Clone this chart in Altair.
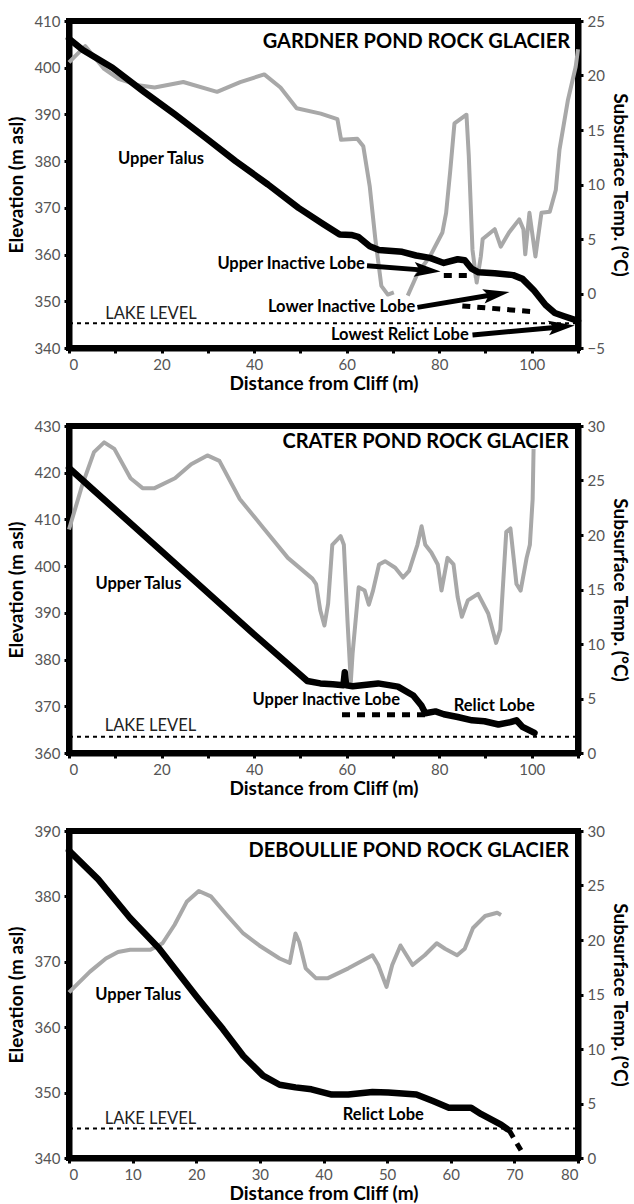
import math
import altair as alt
import pandas as pd

W = 509
H = 327
FONT = "Lato"
GRAY = "#a8a8a8"

# ---------------- Gardner Pond Rock Glacier ----------------
g_elev_d = [0, 3, 9.4, 16, 22.9, 29.5, 36, 43, 49.6, 55, 58.5, 61, 62.5, 65, 67, 72, 75, 78, 81,
            84, 85.5, 87, 88.5, 92, 96, 98, 100.5, 103, 105, 107, 110]
g_elev_e = [406.2, 403.8, 400, 395, 390, 385, 380, 375, 370, 366.5, 364.3, 364.2, 363.8, 361.8, 361,
            360.6, 359.8, 359.3, 358.2, 359, 358.8, 357, 356.2, 356, 355.6, 354.8, 352.3, 349.2, 347.5,
            346.8, 345.8]
g_temp_seg = [1] * 23 + [2] * 30
g_temp_d = [0, 3.5, 7.6, 10.7, 15, 18.5, 24.7, 32, 37, 42.2, 45.7, 49.2, 54.4, 58, 58.8, 62.3, 63.6,
            65, 66.2, 67.5, 68.9, 70.2, 70.2,
            73.2, 75.4, 78, 80.7, 81.5, 82.4, 83.3, 85.9, 86.4, 87.2, 88.1, 89, 89.4, 92, 93.3, 95.1,
            97.3, 98.2, 98.6, 99.5, 100.8, 102.1, 103.9, 105.2, 106, 107.8, 109.5, 110, 110, 110]
g_temp_t = [21.2, 22.7, 20.6, 19.7, 19.1, 18.9, 19.4, 18.5, 19.4, 20.1, 18.9, 17, 16.5, 16, 14.1, 14.2,
            13.5, 9.8, 5, 0.7, -0.1, 0.1, 0.1,
            -0.2, 1.9, 3.4, 5.6, 7.4, 11.3, 15.6, 16.4, 12.6, 4, 1, 3.4, 5, 5.9, 4.3, 5.6, 6.8, 5.9,
            3.6, 7.4, 3.4, 7.4, 7.5, 9.5, 13.2, 17.7, 20.8, 22.4, 22.4, 22.4]
g_lobe_id = ["upper", "upper", "lower", "lower"]
g_lobe_d = [81, 87.5, 85, 100]
g_lobe_e = [355.5, 355.5, 349, 347.8]
g_lake = 345.3
g_labels = ["Upper Talus", "Upper Inactive Lobe", "Lower Inactive Lobe", "Lowest Relict Lobe"]
g_label_d = [19.9, 48, 58.9, 71.5]
g_label_e = [380.4, 357.9, 348.7, 342.8]
g_arrow_d1 = [64.4, 75.3, 87.2]
g_arrow_e1 = [357.6, 348.7, 342.8]
g_arrow_d2 = [80.3, 95.2, 109.3]
g_arrow_e2 = [356.4, 352.0, 344.8]

# ---------------- Crater Pond Rock Glacier ----------------
c_elev_d = [0, 5.4, 20, 40, 51.5, 54.3, 57, 59.3, 59.6, 59.9, 61.3, 66.8, 71.1, 74.4, 76.2, 77, 79.2,
            81, 84, 87.1, 89.8, 92.8, 95.4, 96.7, 98, 100.6]
c_elev_e = [421, 416.2, 403.2, 385.4, 375.4, 374.9, 374.7, 374.5, 377.3, 374.5, 374.3, 374.9, 374.2,
            372.3, 370.1, 368.5, 368.9, 368.3, 367.7, 367, 366.8, 366.1, 366.6, 367, 365.6, 364.3]
c_temp_d = [0, 2.8, 5.4, 7.6, 9.8, 13.3, 15.9, 18.5, 22.9, 26.4, 29.9, 32.5, 36.9, 42.1, 47.3, 52.6,
            53.4, 54.3, 55.2, 56, 56.9, 58.7, 59.4, 60.2, 60.9, 61.3, 62.6, 63.9, 64.8, 65.7, 67, 68.3,
            70.5, 72.2, 73.5, 75.3, 76.2, 77, 78.3, 79.7, 80.5, 81.8, 83.1, 84, 84.9, 86.2, 88.4, 90.6,
            92.3, 93.2, 94.5, 95.4, 96.7, 97.6, 98.9, 99.6, 100.2, 100.4]
c_temp_t = [20.5, 24.5, 27.6, 28.5, 27.9, 25.2, 24.3, 24.3, 25.2, 26.5, 27.3, 26.8, 23.3, 20.6, 17.9,
            16, 15.5, 13.1, 11.7, 13.7, 19.1, 19.9, 19.1, 12, 6.5, 9.2, 15.2, 14.9, 13.6, 14.9, 17.3,
            17.6, 17, 16.1, 16.7, 19.1, 20.8, 19.1, 18.4, 17.3, 14.9, 17.9, 17.3, 14.3, 12.5, 14, 14.6,
            12.8, 10.1, 11.3, 20.3, 20.6, 15.5, 14.9, 17.9, 19.1, 23.3, 27.9]
c_temp_seg = [1] * len(c_temp_d)
c_lobe_id = ["upper", "upper"]
c_lobe_d = [59, 77.5]
c_lobe_e = [368.2, 368.2]
c_lake = 363.5
c_labels = ["Upper Talus", "Upper Inactive Lobe", "Relict Lobe"]
c_label_d = [15, 55.6, 91.9]
c_label_e = [396.2, 371.4, 370.1]

# ---------------- Deboullie Pond Rock Glacier ----------------
d_elev_d = [0, 4.6, 9.6, 14.1, 20.1, 24.2, 27.4, 30.5, 33.1, 35.6, 38.1, 41.3, 43.9, 47.7, 50.2, 54.6,
            57.2, 59.7, 61.6, 63.2, 64.8, 67.9, 68.9]
d_elev_e = [387, 382.6, 376.7, 372.1, 364.6, 359.7, 355.6, 352.6, 351.2, 350.8, 350.5, 349.7, 349.7,
            350.1, 350, 349.7, 348.7, 347.7, 347.7, 347.7, 346.7, 345.1, 344.4]
d_temp_d = [0, 3.3, 5.8, 7.7, 9.6, 12.8, 14.7, 16.6, 18.5, 20.4, 22.3, 24.8, 27.4, 29.9, 33.1, 34.7,
            35.6, 36.2, 37.2, 38.8, 40.7, 43.9, 47.7, 48.6, 49.9, 50.8, 52.1, 54, 55.9, 57.8, 59.1, 61,
            62.2, 63.5, 65.4, 67.3, 67.9]
d_temp_t = [15.2, 17.1, 18.3, 18.9, 19.1, 19.1, 19.7, 21.4, 23.5, 24.5, 24, 22.3, 20.6, 19.5, 18.3,
            17.9, 20.6, 19.8, 17.4, 16.5, 16.5, 17.4, 18.6, 17.7, 15.7, 17.7, 19.5, 17.7, 18.6, 19.7,
            19.2, 18.6, 19.2, 21.1, 22.2, 22.5, 22.3]
d_temp_seg = [1] * len(d_temp_d)
d_lobe_id = ["tail", "tail"]
d_lobe_d = [69.2, 71.2]
d_lobe_e = [344.2, 340.9]
d_lake = 344.5
d_labels = ["Upper Talus", "Relict Lobe"]
d_label_d = [10.9, 49.4]
d_label_e = [365, 346.5]


def panel(title, title_d, title_e, xmax, xlabel_step, ymin, ymax, tmin, tmax, tstep,
          elev_d, elev_e, temp_d, temp_t, temp_seg, lobe_id, lobe_d, lobe_e, lake,
          labels, label_d, label_e, arrows=None, lake_label_d=17.5, lake_label_e=None):
    xs = alt.Scale(domain=[0, xmax], nice=False, zero=False)
    ys = alt.Scale(domain=[ymin, ymax], nice=False, zero=False)
    ts = alt.Scale(domain=[tmin, tmax], nice=False, zero=False)

    elev = pd.DataFrame({"d": elev_d, "e": elev_e, "i": range(len(elev_d))})
    temp = pd.DataFrame({"d": temp_d, "t": temp_t, "seg": temp_seg, "i": range(len(temp_d))})
    lobes = pd.DataFrame({"d": lobe_d, "e": lobe_e, "id": lobe_id})
    lake_df = pd.DataFrame({"d": [0], "d2": [xmax], "e": [lake]})
    lab = pd.DataFrame({"txt": labels, "d": label_d, "e": label_e})
    lake_lab = pd.DataFrame({"txt": ["LAKE LEVEL"], "d": [lake_label_d],
                             "e": [lake_label_e if lake_label_e is not None else lake + 2.2]})
    ttl = pd.DataFrame({"txt": [title], "d": [title_d], "e": [title_e]})

    xvals = list(range(0, xmax + 1, 10))
    xaxis = alt.Axis(values=xvals, title="Distance from Cliff (m)", titlePadding=2,
                     labelExpr=f"datum.value % {xlabel_step} == 0 ? datum.label : ''")
    yaxis = alt.Axis(values=list(range(ymin, ymax + 1, 10)), title="Elevation (m asl)", orient="left",
                     titlePadding=7)
    taxis = alt.Axis(values=list(range(tmin, tmax + 1, tstep)), title="Subsurface Temp. (°C)",
                     orient="right", titlePadding=5)

    def X(f):
        return alt.X(f, scale=xs, axis=xaxis)

    def Y(f):
        return alt.Y(f, scale=ys, axis=yaxis)

    elev_line = alt.Chart(elev).mark_line(color="black", strokeWidth=6.5, strokeJoin="round",
                                          strokeCap="round").encode(
        x=X("d:Q"), y=Y("e:Q"), order="i:Q")
    lobe_line = alt.Chart(lobes).mark_line(color="black", strokeWidth=5, strokeDash=[8, 7]).encode(
        x=X("d:Q"), y=Y("e:Q"), detail="id:N")
    lake_line = alt.Chart(lake_df).mark_rule(color="black", strokeWidth=2, strokeDash=[4, 4]).encode(
        x=X("d:Q"), x2="d2:Q", y=Y("e:Q"))
    lab_text = alt.Chart(lab).mark_text(font=FONT, fontSize=16.5, fontWeight="bold", color="black",
                                        align="center", baseline="middle").encode(
        x=X("d:Q"), y=Y("e:Q"), text="txt:N")
    lake_text = alt.Chart(lake_lab).mark_text(font=FONT, fontSize=16.5, color="#222", align="center",
                                              baseline="middle").encode(
        x=X("d:Q"), y=Y("e:Q"), text="txt:N")
    title_text = alt.Chart(ttl).mark_text(font=FONT, fontSize=20, fontWeight="bold", color="black",
                                          align="right", baseline="middle").encode(
        x=X("d:Q"), y=Y("e:Q"), text="txt:N")

    left_layers = [lake_line, lobe_line, elev_line, lab_text, lake_text, title_text]

    if arrows is not None:
        d1, e1, d2, e2 = arrows
        px = W / xmax
        py = H / (ymax - ymin)
        angs, sd, se = [], [], []
        for a, b, c, d in zip(d1, e1, d2, e2):
            dx = (c - a) * px
            dy = -(d - b) * py
            ang = math.degrees(math.atan2(dy, dx)) % 360
            angs.append(ang)
            L = math.hypot(dx, dy)
            f = max(0.0, (L - 20) / L)
            sd.append(a + (c - a) * f)
            se.append(b + (d - b) * f)
        arr = pd.DataFrame({"d1": d1, "e1": e1, "d2": d2, "e2": e2, "ang": angs, "sd": sd, "se": se})
        shaft = alt.Chart(arr).mark_rule(color="black", strokeWidth=5).encode(
            x=X("d1:Q"), x2="sd:Q", y=Y("e1:Q"), y2="se:Q")
        head = alt.Chart(arr).mark_point(
            shape="M0,0 L-2,-0.55 L-1.6,0 L-2,0.55 Z", filled=True, color="black", opacity=1,
            size=700).encode(
            x=X("d2:Q"), y=Y("e2:Q"), angle=alt.Angle("ang:Q", scale=None))
        left_layers += [shaft, head]

    left = alt.layer(*left_layers)

    temp_line = alt.Chart(temp).mark_line(color=GRAY, strokeWidth=4, strokeJoin="round").encode(
        x=X("d:Q"),
        y=alt.Y("t:Q", scale=ts, axis=taxis),
        detail="seg:N",
        order="i:Q",
    )
    return alt.layer(temp_line, left).resolve_scale(y="independent").properties(width=W, height=H)


p1 = panel("GARDNER POND ROCK GLACIER", 108.3, 405.6, 110, 20, 340, 410, -5, 25, 5,
           g_elev_d, g_elev_e, g_temp_d, g_temp_t, g_temp_seg, g_lobe_id, g_lobe_d, g_lobe_e, g_lake,
           g_labels, g_label_d, g_label_e,
           arrows=(g_arrow_d1, g_arrow_e1, g_arrow_d2, g_arrow_e2), lake_label_d=17.7, lake_label_e=347.3)
p2 = panel("CRATER POND ROCK GLACIER", 108, 426.5, 110, 20, 360, 430, 0, 30, 5,
           c_elev_d, c_elev_e, c_temp_d, c_temp_t, c_temp_seg, c_lobe_id, c_lobe_d, c_lobe_e, c_lake,
           c_labels, c_label_d, c_label_e, lake_label_d=17.6, lake_label_e=365.7)
p3 = panel("DEBOULLIE POND ROCK GLACIER", 78.6, 386.9, 80, 10, 340, 390, 0, 30, 5,
           d_elev_d, d_elev_e, d_temp_d, d_temp_t, d_temp_seg, d_lobe_id, d_lobe_d, d_lobe_e, d_lake,
           d_labels, d_label_d, d_label_e, lake_label_d=12.8, lake_label_e=345.9)

chart = alt.vconcat(p1, p2, p3, spacing=20).properties(
    padding={"left": 4, "top": 11, "right": 0, "bottom": 0}
).configure_view(
    stroke="black", strokeWidth=6
).configure_axis(
    grid=False, domainColor="black", domainWidth=6, tickColor="black", tickWidth=3, tickSize=5,
    labelColor="#555", labelFont=FONT, labelFontSize=15, labelPadding=4,
    titleFont=FONT, titleFontSize=19, titleFontWeight="bold", titleColor="black",
)

chart.save("out.html", embed_options={"renderer": "svg", "actions": False})
